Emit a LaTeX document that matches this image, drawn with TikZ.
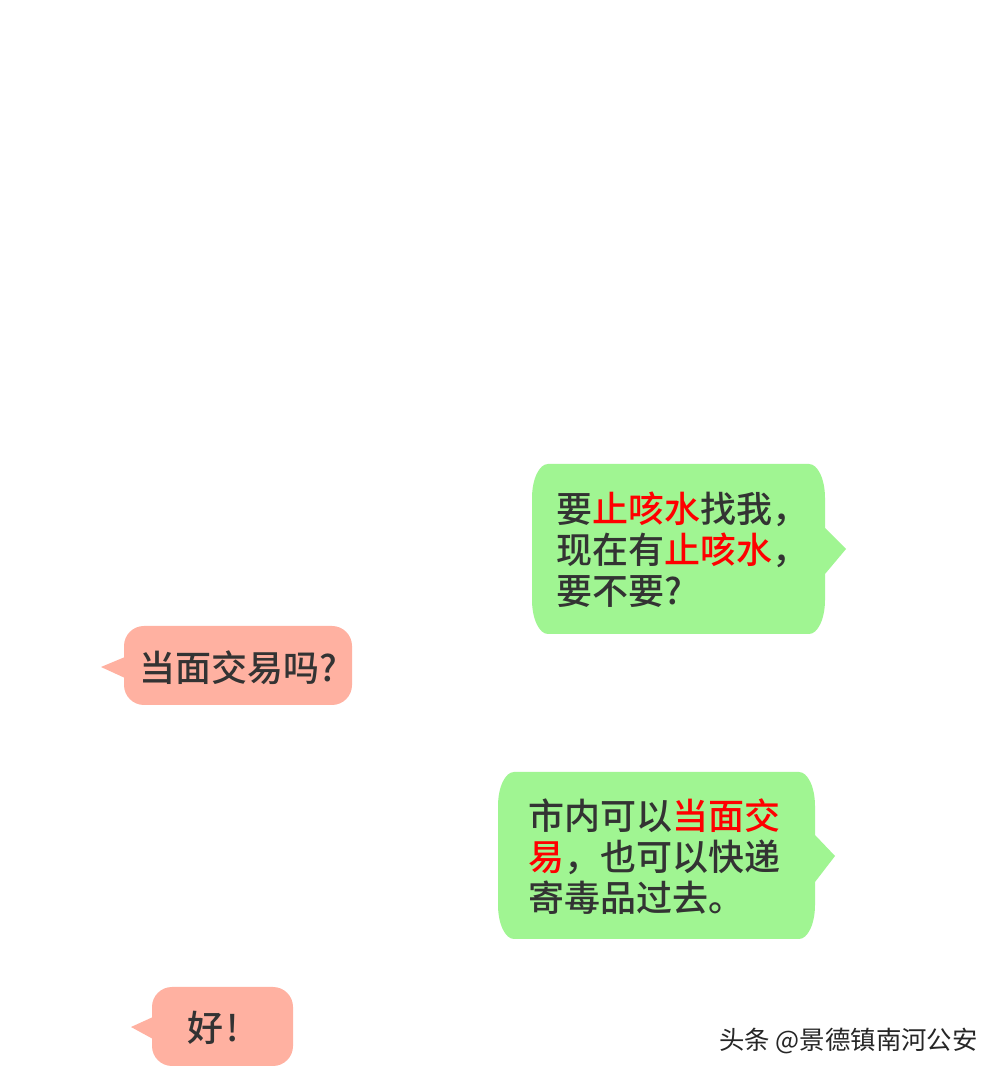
\documentclass[tikz,border=0pt]{standalone}
\usepackage{fontspec}
\usepackage{xcolor}
\newfontfamily\cjk{Noto Sans CJK SC Medium}
\newfontfamily\markfont{Noto Sans CJK SC}
\definecolor{chatgreen}{HTML}{A0F592}
\definecolor{chatpink}{HTML}{FFB1A1}
\definecolor{chatink}{HTML}{333333}
\newcommand{\hot}[1]{\textcolor{red}{#1}}
\tikzset{
    chattext/.style={anchor=west, inner sep=0pt, align=left, text=chatink,
        font=\cjk\fontsize{18}{20.5}\selectfont},
    marktext/.style={anchor=west, inner sep=0pt, font=\markfont\fontsize{12.7}{14}\selectfont},
}
\begin{document}
\begin{tikzpicture}[x=0.5pt,y=0.5pt]
    \useasboundingbox[fill=white] (0,0) rectangle (1000,1076);
    % first green bubble
    \fill[chatgreen] (532,476) arc[start angle=180, end angle=270, x radius=8pt, y radius=17pt]
        -- (809,442) arc[start angle=270, end angle=360, x radius=8pt, y radius=17pt]
        -- (825,502) -- (846,527) -- (825,548)
        -- (825,578) arc[start angle=0, end angle=90, x radius=8pt, y radius=17pt]
        -- (548,612) arc[start angle=90, end angle=180, x radius=8pt, y radius=17pt] -- cycle;
    \node[chattext] (ask) at (556.5,526) {要\hot{止咳水}找我，\\现在有\hot{止咳水}，\\要不要?};
    % first pink bubble
    \fill[chatpink] (125,419) -- (101,409) -- (125,398) -- cycle;
    \fill[chatpink, rounded corners=10pt] (124,371) rectangle (352,450);
    \node[chattext] (reply) at (139.5,408.5) {当面交易吗?};
    % second green bubble
    \fill[chatgreen] (498,171) arc[start angle=180, end angle=270, x radius=8pt, y radius=17pt]
        -- (799,137) arc[start angle=270, end angle=360, x radius=8pt, y radius=17pt]
        -- (815,194) -- (835,220) -- (815,241)
        -- (815,270) arc[start angle=0, end angle=90, x radius=8pt, y radius=17pt]
        -- (514,304) arc[start angle=90, end angle=180, x radius=8pt, y radius=17pt] -- cycle;
    \node[chattext] (offer) at (528.5,219) {市内可以\hot{当面交}\\\hot{易}，也可以快递\\寄毒品过去。};
    % second pink bubble
    \fill[chatpink] (153,59) -- (131,49) -- (153,37) -- cycle;
    \fill[chatpink, rounded corners=10pt] (152,10) rectangle (293,89);
    \node[chattext] (agree) at (187,48.5) {好\kern1.5pt!};
    % watermark
    \node[marktext, text=white] (markshadow) at (721,33) {头条 @景德镇南河公安};
    \node[marktext, text=black!85] (mark) at (719,35) {头条 @景德镇南河公安};
\end{tikzpicture}
\end{document}
